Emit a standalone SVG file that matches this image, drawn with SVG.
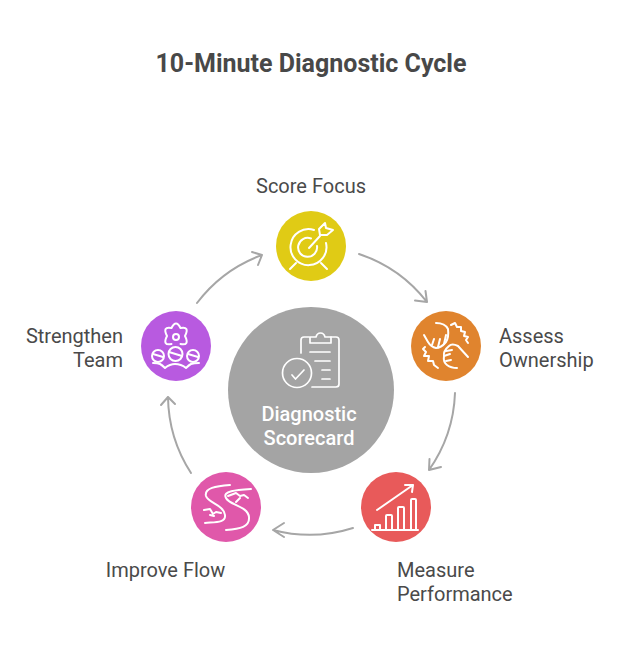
<svg xmlns="http://www.w3.org/2000/svg" width="620" height="654" viewBox="0 0 620 654">
<style>
text{font-family:Roboto,"Liberation Sans",sans-serif;font-size:20px;fill:#4a4a4a}
.t{font-size:25px;font-weight:700;fill:#484848}
.w{fill:#fff;font-weight:500}
.i{fill:none;stroke:#fff;stroke-width:2;stroke-linecap:round;stroke-linejoin:round}
.n{stroke-width:1.700}
.c{fill:none;stroke:#a6a6a6;stroke-width:2;stroke-linecap:round;stroke-linejoin:round}
</style>
<rect width="620" height="654" fill="#fff"/>
<text class="t" x="311" y="72" text-anchor="middle">10-Minute Diagnostic Cycle</text>
<g id="connectors" class="c">
<path d="M359 254A143 143 0 0 1 427 302M425.500 291L427 302L415 300.500"/>
<path d="M455 393A143 143 0 0 1 429 470M429.500 459L429 470L441 467"/>
<path d="M353 528A143 143 0 0 1 273 530M284 523L273 530L284 537"/>
<path d="M191 473A143 143 0 0 1 168 397M161 405L168 397L175 404"/>
<path d="M197 303A143 143 0 0 1 262 255M252 252L262 255L258 265"/>
</g>
<g id="center">
<circle cx="311" cy="390" r="83" fill="#a4a4a4"/>
<g class="i n">
<path d="M309 337H304Q301 337 301 340V353M331 337H336Q339 337 339 340V384Q339 387 336 387H312"/>
<path d="M310 343V337H316Q317 333 320.500 333Q324 333 325 337H331V343Z"/>
<path d="M310 352H330M315 361H330M322 370H330M322 379H330"/>
<circle cx="297" cy="373" r="14.500"/>
<path d="M292 375L295.500 379L304 370"/>
</g>
<text class="w" x="309" y="421" text-anchor="middle">Diagnostic</text>
<text class="w" x="309" y="445" text-anchor="middle">Scorecard</text>
</g>
<g id="score-focus">
<circle cx="311" cy="246" r="35" fill="#e0cb15"/>
<g class="i">
<path d="M314 230A18 18 0 1 0 326 243"/>
<path d="M311 238.500A9.500 9.500 0 1 0 317 246"/>
<path d="M309 248L320 236"/>
<path d="M320 235L319 229L325 223L326 228L333 230L327 235Z"/>
<path d="M296 263L290 269M321 263L327 269"/>
</g>
<text x="311" y="193" text-anchor="middle">Score Focus</text>
</g>
<g id="assess-ownership">
<circle cx="446" cy="346" r="35" fill="#e0842e"/>
<g class="i">
<path d="M436 323Q445 323 448 329Q449 337 446 342Q441 348 436 348Q431 347 428 342L424 335"/>
<path d="M432 345L434 339M438 347L440 339M444 344L446 335"/>
<path d="M425 347L423 349L426 352L424 356L429 356L428 361L433 361L434 365L438 368"/>
<path d="M451 325L455 323L457 327L461 327L461 331L465 332L464 336L468 337L466 340L468 343"/>
<path d="M468 357L458 346Q452 343 449 346Q443 351 444 356Q443 362 447 365Q451 368 457 368"/>
<path d="M446 351L452 350M444 356L450 354M446 361L451 360"/>
</g>
<text x="499" y="343">Assess</text>
<text x="499" y="367">Ownership</text>
</g>
<g id="measure-performance">
<circle cx="396" cy="507" r="35" fill="#e85a5a"/>
<g class="i">
<path d="M377 510L413 485M405 485H413L412 492"/>
<path d="M372 530H418"/>
<path d="M375 530V525H380V530M386 530V516Q386 515 387 515H391Q392 515 392 516V530M398 530V508Q398 507 399 507H403Q404 507 404 508V530M411 530V500Q411 499 412 499H415Q416 499 416 500V530"/>
</g>
<text x="397" y="577">Measure</text>
<text x="397" y="601">Performance</text>
</g>
<g id="improve-flow">
<circle cx="226" cy="507" r="35" fill="#e058aa"/>
<g class="i">
<path d="M230 485C216 486 204 488 206 496C208 503 224 505 225 515C226 523 215 522 205 523"/>
<path d="M251 489C236 490 222 491 226 498C229 505 248 506 249 517C250 527 240 529 226 530"/>
<path d="M228 496L236 493L240 496L244 495L248 498M236 502L240 498"/>
<path d="M204 510L210 509L213 514L216 512L221 513M210 515L214 516"/>
</g>
<text x="165.500" y="577" text-anchor="middle">Improve Flow</text>
</g>
<g id="strengthen-team">
<circle cx="176" cy="346" r="35" fill="#b85ae0"/>
<g class="i">
<path d="M171.500 344Q162 346 167 336Q162 326 171.500 328Q176 319 180.500 328Q190 326 185 336Q190 346 180.500 344"/>
<circle cx="176" cy="337" r="3"/>
<circle cx="158" cy="356" r="6"/>
<circle cx="175.500" cy="354" r="7"/>
<circle cx="193" cy="356" r="6"/>
<path d="M153 354L163 357M169 352L182 356M188 354L198 357"/>
<path d="M153 363Q158 363 160 364Q162 365 165 368Q170 364 175 364Q181 364 186 368Q189 365 191 364Q194 363 199 363"/>
</g>
<text x="123" y="343" text-anchor="end">Strengthen</text>
<text x="123" y="367" text-anchor="end">Team</text>
</g>
</svg>
